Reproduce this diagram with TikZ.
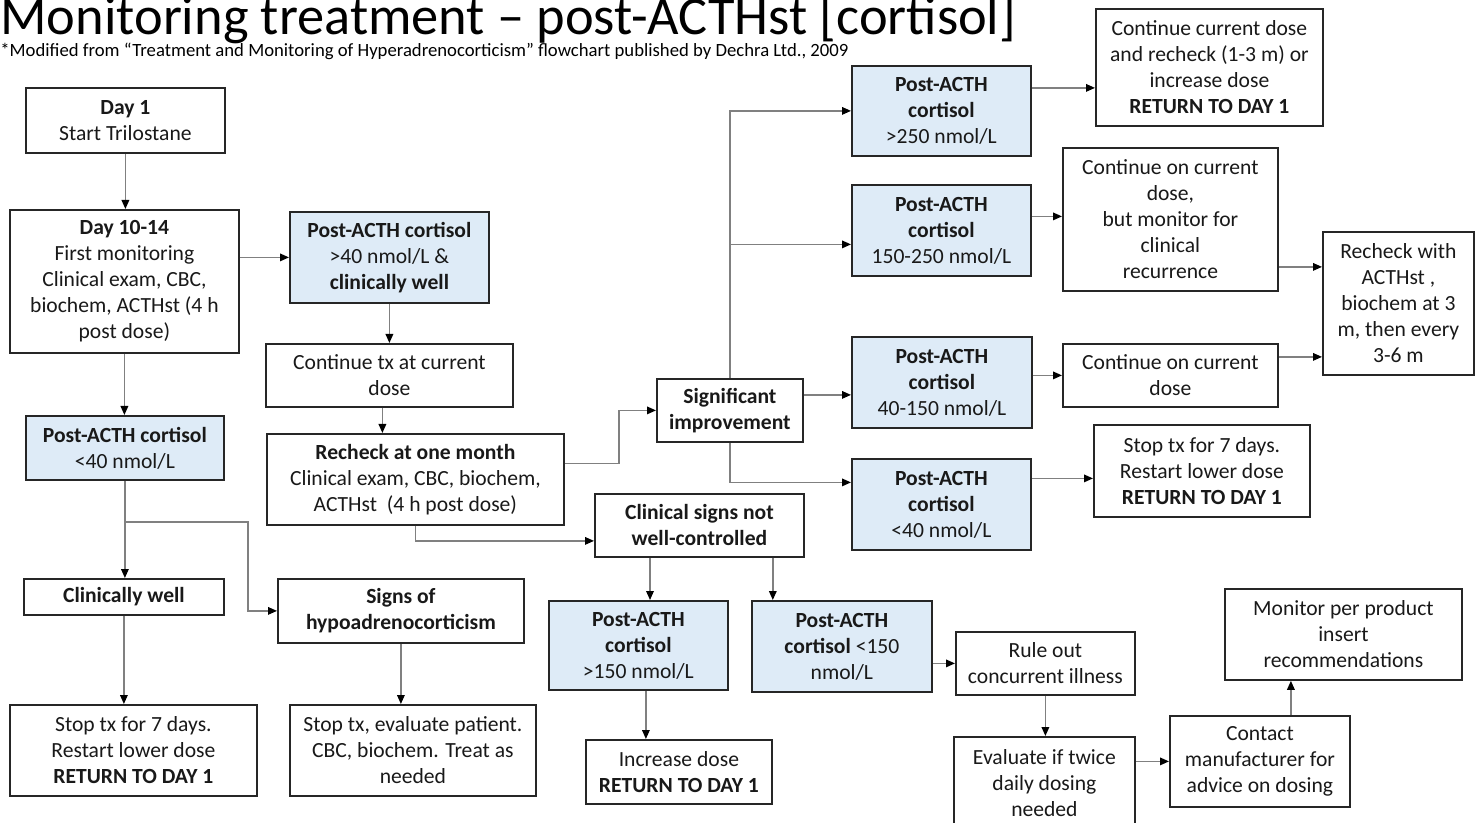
\documentclass[tikz,border=0pt]{standalone}
\usepackage{fontspec}
\setmainfont{Carlito}
\usetikzlibrary{arrows.meta,calc}
\definecolor{boxblue}{RGB}{222,235,247}
\definecolor{linkgray}{RGB}{128,128,128}
\newcommand\boxfont{\fontsize{10.8pt}{13pt}\selectfont}
\tikzset{
  box/.style={draw=black!85, line width=0.9pt, fill=white, anchor=north west,
              align=center, inner sep=1pt, text=black!90, font=\boxfont},
  bluebox/.style={box, fill=boxblue},
  sz/.style 2 args={minimum width=#1*0.5pt, minimum height=#2*0.5pt},
  arr/.style={draw=linkgray, line width=0.7pt,
              -{Triangle[length=4.5pt,width=3.8pt,color=black]}},
  link/.style={draw=linkgray, line width=0.7pt}
}
\begin{document}
\begin{tikzpicture}[x=0.5pt,y=-0.5pt]
\useasboundingbox (0,0) rectangle (1478,823);
\clip (0,0) rectangle (1478,823);

% heading
\node[anchor=base west, inner sep=0, font=\fontsize{27.2pt}{30pt}\selectfont] (title) at (0,35)
  {Monitoring treatment – post-ACTHst [cortisol]};
\node[anchor=base west, inner sep=0, font=\fontsize{9.35pt}{11pt}\selectfont] (source) at (0,57)
  {*Modified from “Treatment and Monitoring of Hyperadrenocorticism” flowchart published by Dechra Ltd., 2009};

% left column
\node[box, sz={199}{65}] (day1) at (25,87) {\textbf{Day 1}\\Start Trilostane};
\node[box, sz={229}{143}] (d10) at (9,209)
  {\textbf{Day 10-14}\\First monitoring\\Clinical exam, CBC,\\biochem, ACTHst (4 h\\post dose)};
\node[bluebox, sz={198}{64}] (lowL) at (25,415) {\textbf{Post-ACTH cortisol}\\<40 nmol/L};
\node[box, sz={200}{36}] (cwell) at (23,578) {\textbf{Clinically well}};
\node[box, sz={246}{64}] (hypo) at (277,578) {\textbf{Signs of}\\\textbf{hypoadrenocorticism}};
\node[box, sz={247}{91}] (stopL) at (9,704)
  {Stop tx for 7 days.\\Restart lower dose\\\textbf{RETURN TO DAY 1}};
\node[box, sz={246}{91}] (stopE) at (289,704)
  {Stop tx, evaluate patient.\\CBC, biochem. Treat as\\needed};

% second column
\node[bluebox, sz={199}{91}] (post40) at (289,211)
  {\textbf{Post-ACTH cortisol}\\>40 nmol/L \&\\\textbf{clinically well}};
\node[box, sz={247}{63}] (conttx) at (265,343) {Continue tx at current\\dose};
\node[box, sz={297}{91}] (rechk) at (266,433)
  {\textbf{Recheck at one month}\\Clinical exam, CBC, biochem,\\ACTHst\ \ (4 h post dose)};

% middle column
\node[box, sz={146}{63}] (sig) at (656,378) {\textbf{Significant}\\\textbf{improvement}};
\node[box, sz={209}{63}] (clin) at (594,493) {\textbf{Clinical signs not}\\\textbf{well-controlled}};
\node[bluebox, sz={179}{89}] (hiL) at (548,600) {\textbf{Post-ACTH}\\\textbf{cortisol}\\>150 nmol/L};
\node[bluebox, sz={180}{91}] (loM) at (751,600) {\textbf{Post-ACTH}\\\textbf{cortisol} <150\\nmol/L};
\node[box, sz={186}{64}] (incr) at (585,739) {Increase dose\\\textbf{RETURN TO DAY 1}};

% cortisol bands after significant improvement
\node[bluebox, sz={179}{90}] (c250) at (851,65) {\textbf{Post-ACTH}\\\textbf{cortisol}\\>250 nmol/L};
\node[bluebox, sz={179}{91}] (c150) at (851,184) {\textbf{Post-ACTH}\\\textbf{cortisol}\\150-250 nmol/L};
\node[bluebox, sz={180}{91}] (c40) at (851,336) {\textbf{Post-ACTH}\\\textbf{cortisol}\\40-150 nmol/L};
\node[bluebox, sz={179}{91}] (c0) at (851,458) {\textbf{Post-ACTH}\\\textbf{cortisol}\\<40 nmol/L};

% right column
\node[box, sz={227}{117}] (contA) at (1095,8)
  {Continue current dose\\and recheck (1-3 m) or\\increase dose\\\textbf{RETURN TO DAY 1}};
\node[box, sz={215}{143}] (contB) at (1062,147)
  {Continue on current\\dose,\\but monitor for\\clinical\\recurrence};
\node[box, sz={215}{63}] (contC) at (1062,343) {Continue on current\\dose};
\node[box, sz={151}{143}] (rchk3) at (1322,231)
  {Recheck with\\ACTHst ,\\biochem at 3\\m, then every\\3-6 m};
\node[box, sz={216}{92}] (stopR) at (1093,424)
  {Stop tx for 7 days.\\Restart lower dose\\\textbf{RETURN TO DAY 1}};
\node[box, sz={179}{63}] (rule) at (955,631) {Rule out\\concurrent illness};
\node[box, sz={181}{92}] (evalx) at (953,736) {Evaluate if twice\\daily dosing\\needed};
\node[box, sz={180}{91}] (contact) at (1169,715) {Contact\\manufacturer for\\advice on dosing};
\node[box, sz={237}{91}] (monitor) at (1224,588) {Monitor per product\\insert\\recommendations};

% connectors: left part
\draw[arr] (day1.south) -- (day1.south |- d10.north);
\draw[arr] (d10.east |- post40.west) -- (post40.west);
\draw[arr] (post40.south) -- (post40.south |- conttx.north);
\draw[arr] ([xshift=-3.5pt]conttx.south) -- ([xshift=-3.5pt]conttx.south |- rechk.north);
\draw[arr] (d10.south) -- (d10.south |- lowL.north);
\draw[arr] (lowL.south) -- (lowL.south |- cwell.north);
\coordinate (split) at ([yshift=-20.5pt]lowL.south);
\coordinate (hypoX) at (248,0);
\draw[arr] (split) -- (split -| hypoX) |- (hypo.west);
\draw[arr] (cwell.south) -- (cwell.south |- stopL.north);
\draw[arr] (hypo.south) -- (hypo.south |- stopE.north);

% connectors: from the one-month recheck
\draw[arr] ([yshift=8pt]rechk.east) -- ++(54,0) |- (sig.west);
\coordinate (clinIn) at ([yshift=-7.75pt]clin.west);
\draw[arr] (rechk.south) |- (clinIn);

% connectors: significant improvement
\coordinate (c150in) at ([yshift=-7pt]c150.west);
\coordinate (c40in) at ([yshift=-6.25pt]c40.west);
\coordinate (c0in) at ([yshift=11pt]c0.west);
\draw[arr] (sig.north) |- (c250.west);
\draw[arr] (sig.north |- c150in) -- (c150in);
\draw[arr] (sig.east |- c40in) -- (c40in);
\draw[arr] (sig.south) |- (c0in);

\coordinate (aOut) at ([yshift=11.5pt]c250.east);
\coordinate (bOut) at ([yshift=7pt]c150.east);
\coordinate (cOut) at ([yshift=3.5pt]c40.east);
\coordinate (dOut) at ([yshift=13pt]c0.east);
\draw[arr] (aOut) -- (aOut -| contA.west);
\draw[arr] (bOut) -- (bOut -| contB.west);
\draw[arr] (cOut) -- (cOut -| contC.west);
\draw[arr] (dOut) -- (dOut -| stopR.west);

\coordinate (bRe) at ([yshift=-23.75pt]contB.east);
\coordinate (cRe) at ([yshift=9.25pt]contC.east);
\draw[arr] (bRe) -- (bRe -| rchk3.west);
\draw[arr] (cRe) -- (cRe -| rchk3.west);

% connectors: clinical signs not well-controlled
\coordinate (clinA) at ([xshift=28pt]clin.south west);
\coordinate (clinB) at ([xshift=-16pt]clin.south east);
\draw[arr] (clinA) -- (clinA |- hiL.north);
\draw[arr] (clinB) -- (clinB |- loM.north);
\coordinate (hiOut) at ([xshift=3.75pt]hiL.south);
\draw[arr] (hiOut) -- (hiOut |- incr.north);
\draw[arr] (loM.east |- rule.west) -- (rule.west);
\draw[arr] (rule.south) -- (rule.south |- evalx.north);
\draw[arr] (evalx.east |- contact.west) -- (contact.west);
\coordinate (upOut) at ([xshift=15.5pt]contact.north);
\draw[arr] (upOut) -- (upOut |- monitor.south);
\end{tikzpicture}
\end{document}
